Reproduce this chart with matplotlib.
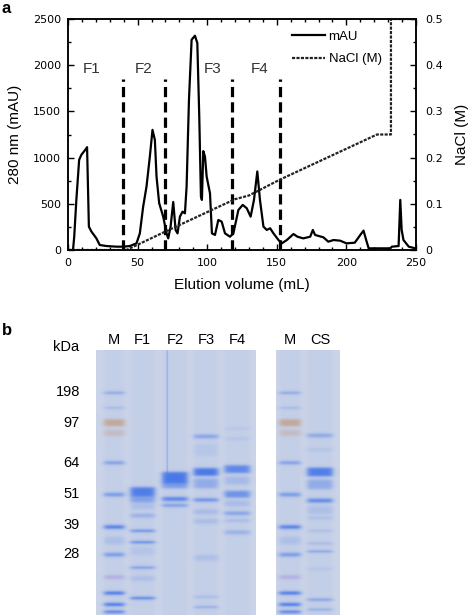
import numpy as np
import matplotlib
matplotlib.use("Agg")
import matplotlib.pyplot as plt
from matplotlib.ticker import MultipleLocator

# ---------------- Panel a data ----------------
vol = [0, 3.6, 4.5, 6, 8, 9.6, 12.7, 13.7, 15, 16.8, 20.4, 22.8, 27.6, 34.8, 39.6, 44.4, 49.2,
       51.6, 54, 56.4, 58.8, 60.7, 62.4, 63.6, 65.5, 68.4, 70.8, 72, 73.7, 75.6, 77.3, 78.7,
       80.4, 82.3, 84, 85.2, 86.9, 88.8, 91.2, 92.9, 94.3, 95.5, 96.2, 97.2, 98.4, 99.6, 102,
       103.4, 105.6, 108, 110.4, 112.8, 116.4, 118.8, 122.4, 125.5, 128.4, 131.2, 133.6, 136,
       137.9, 140.4, 142.8, 145.2, 147.6, 151.2, 153.6, 157.2, 162, 164.8, 169, 174, 175.9,
       177.5, 180, 183.5, 187, 190.7, 195.5, 200, 206, 210, 212.3, 214.2, 216, 226.7, 231.5,
       232.7, 237.5, 238.7, 239.7, 241, 244.8, 249.5]
mau = [0, 0, 150, 542, 975, 1030, 1090, 1113, 253, 200, 126, 54, 43, 36, 36, 43, 72,
       180, 470, 686, 1011, 1300, 1192, 795, 506, 361, 180, 126, 253, 520, 217, 180,
       361, 415, 397, 686, 1626, 2276, 2319, 2240, 1445, 578, 542, 1070, 1011, 795, 614,
       180, 163, 325, 307, 180, 144, 180, 433, 488, 452, 361, 542, 850,
       542, 253, 217, 235, 180, 108, 72, 108, 173, 144, 126, 144, 217,
       163, 152, 137, 90, 108, 101, 72, 79, 163, 210, 108, 18, 18, 18,
       36, 43, 542, 217, 108, 36, 18]
nacl_vol = [0, 42, 70, 120, 130, 152, 222, 232, 232, 250]
nacl_m = [0, 0, 0.04, 0.11, 0.118, 0.152, 0.25, 0.25, 0.5, 0.5]
fraction_bounds = [39.5, 70, 118, 152]
fraction_labels = ["F1", "F2", "F3", "F4"]
fraction_label_x = [16.8, 54.5, 104, 137.5]

# ---------------- Panel b data ----------------
lane_names = ["M", "F1", "F2", "F3", "F4", "M", "CS"]
lane_x = [114.3, 142.7, 175, 206, 237.3, 290, 320]
lane_w = [20, 24, 25, 24, 25, 21, 25]
mw_labels = ["198", "97", "64", "51", "39", "28"]
mw_y = [381, 413, 455, 488, 521, 551]

# marker ladder (used in both M lanes): y, strength, half-height, colour
marker_y = [382, 397.7, 413.3, 424, 455.3, 488.7, 522.7, 537, 551.7, 575.3, 592, 604, 611.7]
marker_strength = [0.45, 0.25, 0.6, 0.3, 0.5, 0.55, 0.8, 0.15, 0.55, 0.4, 0.9, 0.9, 0.85]
marker_half = [1.0, 0.8, 3.5, 3.0, 1.5, 1.8, 1.8, 4.0, 1.8, 1.8, 1.5, 1.5, 1.2]
marker_colour = ["b", "b", "o", "o", "b", "b", "b", "b", "b", "p", "b", "b", "b"]

# sample bands: lane index, y position, strength (0-1), half-height (px)
band_lane = [1, 1, 1, 1, 1, 1, 1, 1, 1, 1,
             2, 2, 2, 2,
             3, 3, 3, 3, 3, 3, 3, 3, 3, 3,
             4, 4, 4, 4, 4, 4, 4, 4, 4,
             6, 6, 6, 6, 6, 6, 6, 6, 6, 6, 6, 6, 6]
band_y = [486, 494, 501, 510.7, 526.7, 538.7, 548, 565.3, 576.7, 597.3,
          471, 479, 493.3, 500,
          427.7, 442, 465, 477, 494.3, 506.7, 516.7, 555, 596, 606.7,
          419.3, 430, 462, 474, 488.3, 498, 508.3, 516, 528.3,
          426.7, 441.7, 465, 478, 495, 505, 513.3, 526.7, 540, 548.3, 566.7, 599, 609.3]
band_strength = [0.8, 0.45, 0.15, 0.3, 0.7, 0.75, 0.1, 0.55, 0.15, 0.85,
                 0.85, 0.5, 0.75, 0.5,
                 0.45, 0.08, 0.85, 0.35, 0.65, 0.2, 0.18, 0.15, 0.22, 0.4,
                 0.1, 0.1, 0.7, 0.2, 0.6, 0.18, 0.45, 0.2, 0.3,
                 0.4, 0.1, 0.8, 0.35, 0.7, 0.15, 0.15, 0.18, 0.22, 0.5, 0.12, 0.5, 0.4]
band_half = [5.0, 3.0, 3.0, 2.0, 1.0, 1.0, 4.0, 1.0, 2.5, 1.0,
             6.0, 3.0, 2.0, 1.5,
             1.8, 6.0, 4.0, 5.0, 1.6, 2.5, 2.5, 3.0, 1.0, 0.8,
             1.0, 1.5, 4.0, 4.0, 3.5, 3.0, 1.8, 1.5, 2.0,
             1.8, 2.0, 4.5, 5.0, 2.0, 4.0, 1.5, 1.0, 1.0, 0.8, 1.0, 1.0, 0.8]

# ---------------- figure ----------------
W, H = 472, 615
fig = plt.figure(figsize=(W / 100, H / 100), dpi=100)

lab_font = "Liberation Sans"
tick_font = "DejaVu Sans"

ax = fig.add_axes([68 / W, 1 - 250 / H, 348 / W, 231 / H])
ax.plot(vol, mau, color="black", lw=1.6, label="mAU", solid_joinstyle="round")
ax.set_xlim(0, 250)
ax.set_ylim(0, 2500)
for xb in fraction_bounds:
    ax.plot([xb, xb], [0, 1850], color="black", lw=2.3, linestyle=(0, (3.2, 1.6)))
for lab, xl in zip(fraction_labels, fraction_label_x):
    ax.text(xl, 1960, lab, ha="center", va="center", fontsize=11,
            family=lab_font, color="#333333")
ax2 = ax.twinx()
ax2.plot(nacl_vol, nacl_m, color="#222222", lw=1.6, linestyle=(0, (1.4, 0.6)),
         label="NaCl (M)")
ax2.set_xlim(0, 250)

ax.xaxis.set_major_locator(MultipleLocator(50))
ax.xaxis.set_minor_locator(MultipleLocator(10))
ax.yaxis.set_major_locator(MultipleLocator(500))
ax.yaxis.set_minor_locator(MultipleLocator(250))
ax2.yaxis.set_minor_locator(MultipleLocator(0.05))
nacl_ticks = [0, 0.1, 0.2, 0.3, 0.4, 0.5]
ax2.set_yticks(nacl_ticks)
ax2.set_yticklabels([f"{v:g}" for v in nacl_ticks])
ax2.set_ylim(0, 0.5)
for a in (ax, ax2):
    a.tick_params(which="both", direction="in", top=True, width=1.0)
    a.tick_params(which="major", length=4, labelsize=8)
    a.tick_params(which="minor", length=2.5)
    for s in a.spines.values():
        s.set_linewidth(1.1)
    for t in a.get_xticklabels() + a.get_yticklabels():
        t.set_family(tick_font)
ax.tick_params(which="both", right=False)
ax.tick_params(axis="y", pad=5)
ax2.tick_params(which="both", left=False, labelleft=False)
ax2.tick_params(axis="y", pad=7)
ax.tick_params(axis="x", pad=6)
ax.set_xlabel("Elution volume (mL)", fontsize=11, family=lab_font, labelpad=7)
ax.set_ylabel("280 nm (mAU)", fontsize=11, family=lab_font, labelpad=8)
ax2.set_ylabel("NaCl (M)", fontsize=11, family=lab_font, labelpad=8)

h1, l1 = ax.get_legend_handles_labels()
h2, l2 = ax2.get_legend_handles_labels()
leg = ax2.legend(h1 + h2, l1 + l2, loc="upper right", bbox_to_anchor=(0.935, 1.0),
                 frameon=False, handlelength=2.5, handletextpad=0.3,
                 labelspacing=0.75, prop={"family": lab_font, "size": 9.5})

fig.text(1 / W, 1 - 1 / H, "a", fontsize=12, fontweight="bold", family=lab_font,
         ha="left", va="top")

# ---------------- Panel b: gel ----------------
axb = fig.add_axes([0, 0, 1, 300 / H])
axb.set_xlim(0, W)
axb.set_ylim(H, 300)
axb.axis("off")

bg = np.array([203, 212, 231]) / 255.0
cols = {"b": np.array([50, 105, 232]) / 255.0,
        "o": np.array([195, 140, 100]) / 255.0,
        "p": np.array([150, 120, 215]) / 255.0}


def lane_bands(li):
    out = []
    if lane_names[li] == "M":
        out += list(zip(marker_y, marker_strength, marker_half, marker_colour))
    for l, yc, s, hh in zip(band_lane, band_y, band_strength, band_half):
        if l == li:
            out.append((yc, s, hh, "b"))
    return out


def render(x0, x1, lanes):
    scale = 3
    xs = x0 + (np.arange(int((x1 - x0) * scale)) + 0.5) / scale
    ys = 337 + (np.arange(int((H - 337) * scale)) + 0.5) / scale
    X, Y = np.meshgrid(xs, ys)
    img = np.ones(X.shape + (3,)) * bg
    for li in lanes:
        hp = 1 / (1 + np.exp(-(lane_w[li] / 2 - np.abs(X - lane_x[li])) / 1.5))
        a = 0.05 * hp
        img = img * (1 - a[..., None]) + cols["b"] * a[..., None]
        for yc, s, hh, c in lane_bands(li):
            vp = 1 / (1 + np.exp((np.abs(Y - yc) - hh) / 0.8))
            a = np.clip(s * hp * vp, 0, 1)
            img = img * (1 - a[..., None]) + cols[c] * a[..., None]
    if 2 in lanes:
        a = 0.35 * np.exp(-0.5 * ((X - 167.3) / 0.5) ** 2) * (Y < 466)
        img = img * (1 - a[..., None]) + cols["b"] * a[..., None]
    return img


g1 = render(96, 256, [0, 1, 2, 3, 4])
axb.imshow(g1, extent=(96, 256, H, 337), origin="upper", interpolation="bilinear",
           aspect="auto")
g2 = render(276, 340, [5, 6])
axb.imshow(g2, extent=(276, 340, H, 337), origin="upper", interpolation="bilinear",
           aspect="auto")

for name, xl in zip(lane_names, lane_x):
    axb.text(xl, 326, name, ha="center", va="center", fontsize=10.5, family=lab_font)
axb.text(66, 334, "kDa", ha="center", va="center", fontsize=10.5, family=lab_font)
for lab, yl in zip(mw_labels, mw_y):
    axb.text(80, yl, lab, ha="right", va="center", fontsize=10.5, family=lab_font)
axb.text(2, 316, "b", fontsize=12, fontweight="bold", family=lab_font,
         ha="left", va="center")

fig.savefig("out.png", dpi=100)
